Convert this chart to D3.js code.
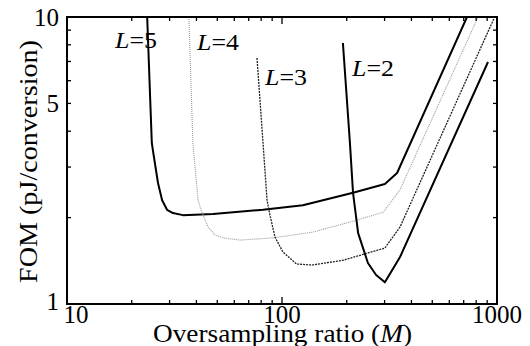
<!DOCTYPE html>
<html><head><meta charset="utf-8">
<script src="https://cdn.jsdelivr.net/npm/d3@7"></script>
<style>
body{margin:0;background:#fff;}
svg{display:block;}
text{font-family:"Liberation Serif","Times New Roman",serif;fill:#000;}
</style></head>
<body>
<div id="chart"></div>
<script>
// ---- data (M, FOM) ----
const seriesL5 = [[23.6,10],[24.8,3.64],[25.2,3.36],[26.5,2.64],[27.7,2.30],[29.2,2.13],[31.1,2.075],[34.6,2.04],[47.8,2.06],[81.6,2.13],[125,2.21],[214,2.44],[301,2.62],[343,2.86],[725,10]];
const seriesL4 = [[36.9,10],[38.5,3.64],[40.7,2.30],[42.4,2.09],[45.3,1.855],[48.8,1.74],[53.2,1.70],[63.8,1.67],[90.8,1.70],[139,1.78],[223,1.96],[296,2.09],[354,2.50],[816,10]];
const seriesL3 = [[76.5,7.20],[81.6,3.64],[85.2,2.30],[87.9,2.04],[92.8,1.71],[101,1.517],[117,1.378],[138,1.367],[192,1.42],[301,1.567],[354,1.855],[975,10]];
const seriesL2 = [[192,8.12],[207,3.64],[214,2.44],[226,1.766],[251,1.39],[274,1.262],[301,1.19],[354,1.458],[908,6.97]];
const seriesNames = ["L=5","L=4","L=3","L=2"];
const xTickLabels = [10,100,1000];
const yTickLabels = [1,5,10];
const xMinor = [20,30,40,50,60,70,80,90,200,300,400,500,600,700,800,900];
const yMinor = [2,3,4,5,6,7,8,9];

const W=530,H=346;
const m={left:67,right:33,top:17,bottom:42};
const svg=d3.select("#chart").append("svg").attr("width",W).attr("height",H);
const x=d3.scaleLog().domain([10,1000]).range([m.left,W-m.right]);
const y=d3.scaleLog().domain([1,10]).range([H-m.bottom,m.top]);
const x0=x.range()[0],x1=x.range()[1],y0=y.range()[0],y1=y.range()[1];

svg.append("clipPath").attr("id","clip").append("rect")
  .attr("x",x0).attr("y",y1).attr("width",x1-x0).attr("height",y0-y1);

const line=d3.line().x(d=>x(d[0])).y(d=>y(d[1]));
const g=svg.append("g").attr("clip-path","url(#clip)");
const styles=[
  {data:seriesL5,stroke:"#000",w:2,dash:null},
  {data:seriesL4,stroke:"#999",w:1.1,dash:"1,1"},
  {data:seriesL3,stroke:"#222",w:1.3,dash:"2,1"},
  {data:seriesL2,stroke:"#000",w:2,dash:null}
];
styles.forEach(s=>{
  g.append("path").datum(s.data).attr("d",line).attr("fill","none")
   .attr("stroke",s.stroke).attr("stroke-width",s.w)
   .attr("stroke-dasharray",s.dash).attr("stroke-linejoin","round");
});

// ticks (inward on all sides)
const tg=svg.append("g").attr("stroke","#000").attr("stroke-width",1.3);
xMinor.forEach(v=>{
  tg.append("line").attr("x1",x(v)).attr("x2",x(v)).attr("y1",y0).attr("y2",y0-4);
  tg.append("line").attr("x1",x(v)).attr("x2",x(v)).attr("y1",y1).attr("y2",y1+4);
});
[100].forEach(v=>{
  tg.append("line").attr("x1",x(v)).attr("x2",x(v)).attr("y1",y0).attr("y2",y0-7);
  tg.append("line").attr("x1",x(v)).attr("x2",x(v)).attr("y1",y1).attr("y2",y1+7);
});
yMinor.forEach(v=>{
  tg.append("line").attr("y1",y(v)).attr("y2",y(v)).attr("x1",x0).attr("x2",x0+4);
  tg.append("line").attr("y1",y(v)).attr("y2",y(v)).attr("x1",x1).attr("x2",x1-4);
});

// frame
svg.append("rect").attr("x",x0).attr("y",y1).attr("width",x1-x0).attr("height",y0-y1)
  .attr("fill","none").attr("stroke","#000").attr("stroke-width",2);

// tick labels
const fs=25;
xTickLabels.forEach((v,i)=>{
  svg.append("text").attr("x",x(v)+(i===0?9:0)).attr("y",323)
    .attr("text-anchor","middle").attr("font-size",fs).text(v);
});
yTickLabels.forEach((v,i)=>{
  svg.append("text").attr("x",59).attr("y",y(v)+(i===0?6:9))
    .attr("text-anchor","end").attr("font-size",fs).text(v);
});

// axis titles
const xt=svg.append("text").attr("x",153).attr("y",342).attr("font-size",fs)
  .attr("textLength",259).attr("lengthAdjust","spacingAndGlyphs");
xt.append("tspan").text("Oversampling ratio (");
xt.append("tspan").attr("font-style","italic").text("M");
xt.append("tspan").text(")");
svg.append("text").attr("transform","translate(37,283) rotate(-90)")
  .attr("font-size",fs).attr("textLength",243).attr("lengthAdjust","spacingAndGlyphs")
  .text("FOM (pJ/conversion)");

// series labels
const labelPos=[[115,48],[197,50],[265,85],[352,76]];
seriesNames.forEach((n,i)=>{
  const t=svg.append("text").attr("x",labelPos[i][0]).attr("y",labelPos[i][1]).attr("font-size",24)
    .attr("textLength",42).attr("lengthAdjust","spacingAndGlyphs");
  t.append("tspan").attr("font-style","italic").text(n.split("=")[0]);
  t.append("tspan").text("="+n.split("=")[1]);
});
</script>
</body></html>
